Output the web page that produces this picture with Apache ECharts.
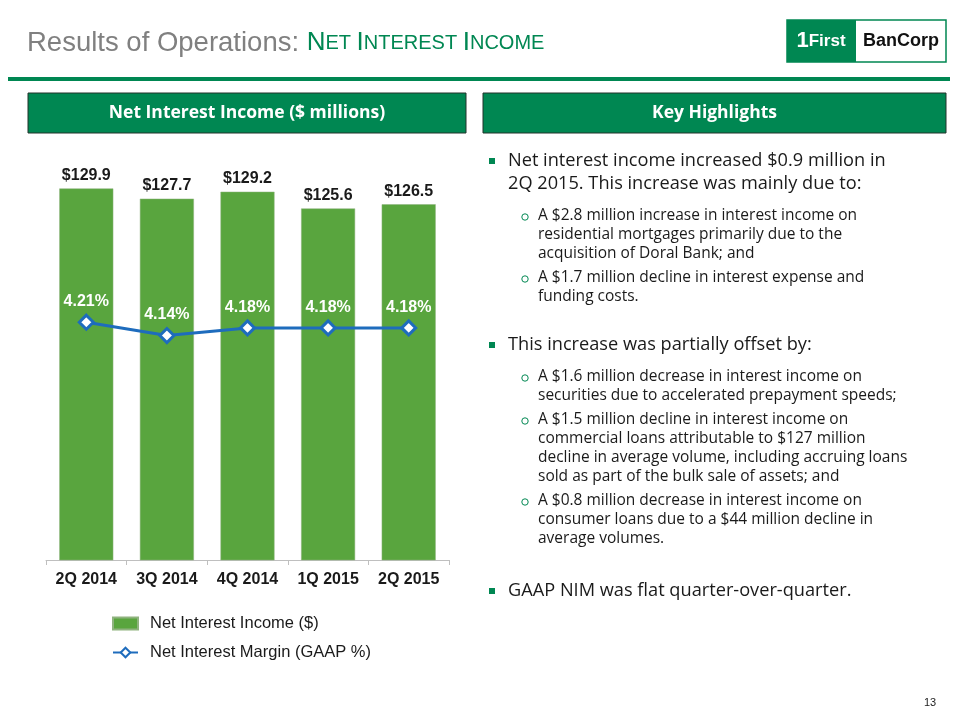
<!DOCTYPE html>
<html><head><meta charset="utf-8">
<script src="https://cdn.jsdelivr.net/npm/echarts@6/dist/echarts.min.js"></script>
<style>html,body{margin:0;padding:0;background:#fff}#c{width:960px;height:720px}</style>
</head><body><div id="c"></div>
<script>
const categories = ['2Q 2014','3Q 2014','4Q 2014','1Q 2015','2Q 2015'];
const netInterestIncome = [129.9, 127.7, 129.2, 125.6, 126.5];
const netInterestMargin = [4.21, 4.14, 4.18, 4.18, 4.18];
const seriesNames = ['Net Interest Income ($)', 'Net Interest Margin (GAAP %)'];
// [bullet level (1 = square, 2 = circle, 0 = continuation), text, line centre y]
const highlights = [
  [1, 'Net interest income increased $0.9 million in', 161],
  [0, '2Q 2015. This increase was mainly due to:', 184],
  [2, 'A $2.8 million increase in interest income on', 216],
  [0, 'residential mortgages primarily due to the', 235],
  [0, 'acquisition of Doral Bank; and', 254],
  [2, 'A $1.7 million decline in interest expense and', 278],
  [0, 'funding costs.', 297],
  [1, 'This increase was partially offset by:', 345],
  [2, 'A $1.6 million decrease in interest income on', 377],
  [0, 'securities due to accelerated prepayment speeds;', 396],
  [2, 'A $1.5 million decline in interest income on', 420],
  [0, 'commercial loans attributable to $127 million', 439],
  [0, 'decline in average volume, including accruing loans', 458],
  [0, 'sold as part of the bulk sale of assets; and', 477],
  [2, 'A $0.8 million decrease in interest income on', 501],
  [0, 'consumer loans due to a $44 million decline in', 520],
  [0, 'average volumes.', 539],
  [1, 'GAAP NIM was flat quarter-over-quarter.', 591]
];
const FONT = 'Liberation Sans, Arial, sans-serif';
const BODY = 'Open Sans, Noto Sans, sans-serif';
const GREEN = '#008752';
const BAR = '#59a53e';
const BLUE = '#1e6cbd';

const chart = echarts.init(document.getElementById('c'));
const graphics = [];
// title
graphics.push({type:'text', left:27, top:29, style:{
  text:'{a|Results of Operations: }{b|N}{c|ET }{b|I}{c|NTEREST }{b|I}{c|NCOME}',
  rich:{
    a:{fontSize:27.5, fill:'#808080', fontFamily:FONT},
    b:{fontSize:26, fill:GREEN, fontFamily:FONT},
    c:{fontSize:20, fill:GREEN, fontFamily:FONT}
  }}});
// logo
graphics.push({type:'rect', shape:{x:787,y:20,width:159,height:42}, style:{fill:'#fff', stroke:GREEN, lineWidth:1.5}});
graphics.push({type:'rect', shape:{x:787,y:20,width:69,height:42}, style:{fill:GREEN}});
graphics.push({type:'text', x:821, y:41, style:{text:'{n|1}{f|First}', align:'center', verticalAlign:'middle',
  rich:{n:{fontSize:22,fontWeight:'bold',fill:'#fff',fontFamily:FONT}, f:{fontSize:17,fontWeight:'bold',fill:'#fff',fontFamily:FONT}}}});
graphics.push({type:'text', x:901, y:41, style:{text:'BanCorp', align:'center', verticalAlign:'middle', fontSize:18, fontWeight:'bold', fill:'#111', fontFamily:FONT}});
// green rule
graphics.push({type:'rect', shape:{x:8,y:77,width:942,height:4}, style:{fill:GREEN}});
// header boxes
[[28,438,'Net Interest Income ($ millions)'],[483,463,'Key Highlights']].forEach(([x,w,t])=>{
  graphics.push({type:'rect', shape:{x:x,y:93,width:w,height:40}, style:{fill:GREEN, stroke:'#23332b', lineWidth:1}});
  graphics.push({type:'text', x:x+w/2, y:113, style:{text:t, align:'center', verticalAlign:'middle', fontSize:17.5, fontWeight:'bold', fill:'#fff', fontFamily:BODY}});
});
// highlights
let curLevel = 1;
highlights.forEach(([lvl, t, y])=>{
  if (lvl) curLevel = lvl;
  const tx = curLevel === 1 ? 508 : 538;
  const fs = curLevel === 1 ? 18.2 : 15.5;
  if (lvl === 1) graphics.push({type:'rect', shape:{x:489,y:y-3,width:6,height:6}, style:{fill:GREEN}});
  if (lvl === 2) graphics.push({type:'circle', shape:{cx:525,cy:y+1,r:3.2}, style:{fill:'none', stroke:GREEN, lineWidth:1}});
  graphics.push({type:'text', x:tx, y:y, style:{text:t, verticalAlign:'middle', fontSize:fs, fill:'#1a1a1a', fontFamily:BODY}});
});
// page number
graphics.push({type:'text', x:930, y:703, style:{text:'13', align:'center', verticalAlign:'middle', fontSize:11, fill:'#222', fontFamily:FONT}});

chart.setOption({
  animation:false,
  textStyle:{fontFamily:FONT},
  grid:{left:46, right:511, top:141.5, bottom:160, containLabel:false},
  legend:{orient:'vertical', left:107, top:610, itemGap:12, itemWidth:25, itemHeight:12,
    textStyle:{fontSize:16.5, color:'#1a1a1a', fontFamily:FONT, padding:[0,0,0,7]},
    data:[{name:seriesNames[0], icon:'rect', itemStyle:{color:BAR}}, {name:seriesNames[1]}]},
  xAxis:{type:'category', data:categories,
    axisLine:{lineStyle:{color:'#bfbfbf', width:1}},
    axisTick:{show:true, length:5, lineStyle:{color:'#bfbfbf'}},
    axisLabel:{fontSize:16, fontWeight:'bold', color:'#1a1a1a', margin:12, fontFamily:FONT}},
  yAxis:[
    {type:'value', min:50, max:140, show:false, splitLine:{show:false}},
    {type:'value', min:2.96, max:5.16, show:false, splitLine:{show:false}}
  ],
  series:[
    {name:seriesNames[0], type:'bar', data:netInterestIncome, barWidth:54, yAxisIndex:0,
      itemStyle:{color:BAR, borderColor:'#8fb37f', borderWidth:0.5},
      label:{show:true, position:'top', distance:5, formatter:p=>'$'+p.value.toFixed(1),
        fontSize:16, fontWeight:'bold', color:'#1a1a1a', fontFamily:FONT}},
    {name:seriesNames[1], type:'line', data:netInterestMargin, yAxisIndex:1,
      symbol:'diamond', symbolSize:14, lineStyle:{color:BLUE, width:3},
      itemStyle:{color:'#fff', borderColor:BLUE, borderWidth:3},
      label:{show:true, position:'top', distance:4, formatter:p=>p.value.toFixed(2)+'%',
        fontSize:16, fontWeight:'bold', color:'#fff', fontFamily:FONT}}
  ],
  graphic:graphics
});
</script></body></html>
